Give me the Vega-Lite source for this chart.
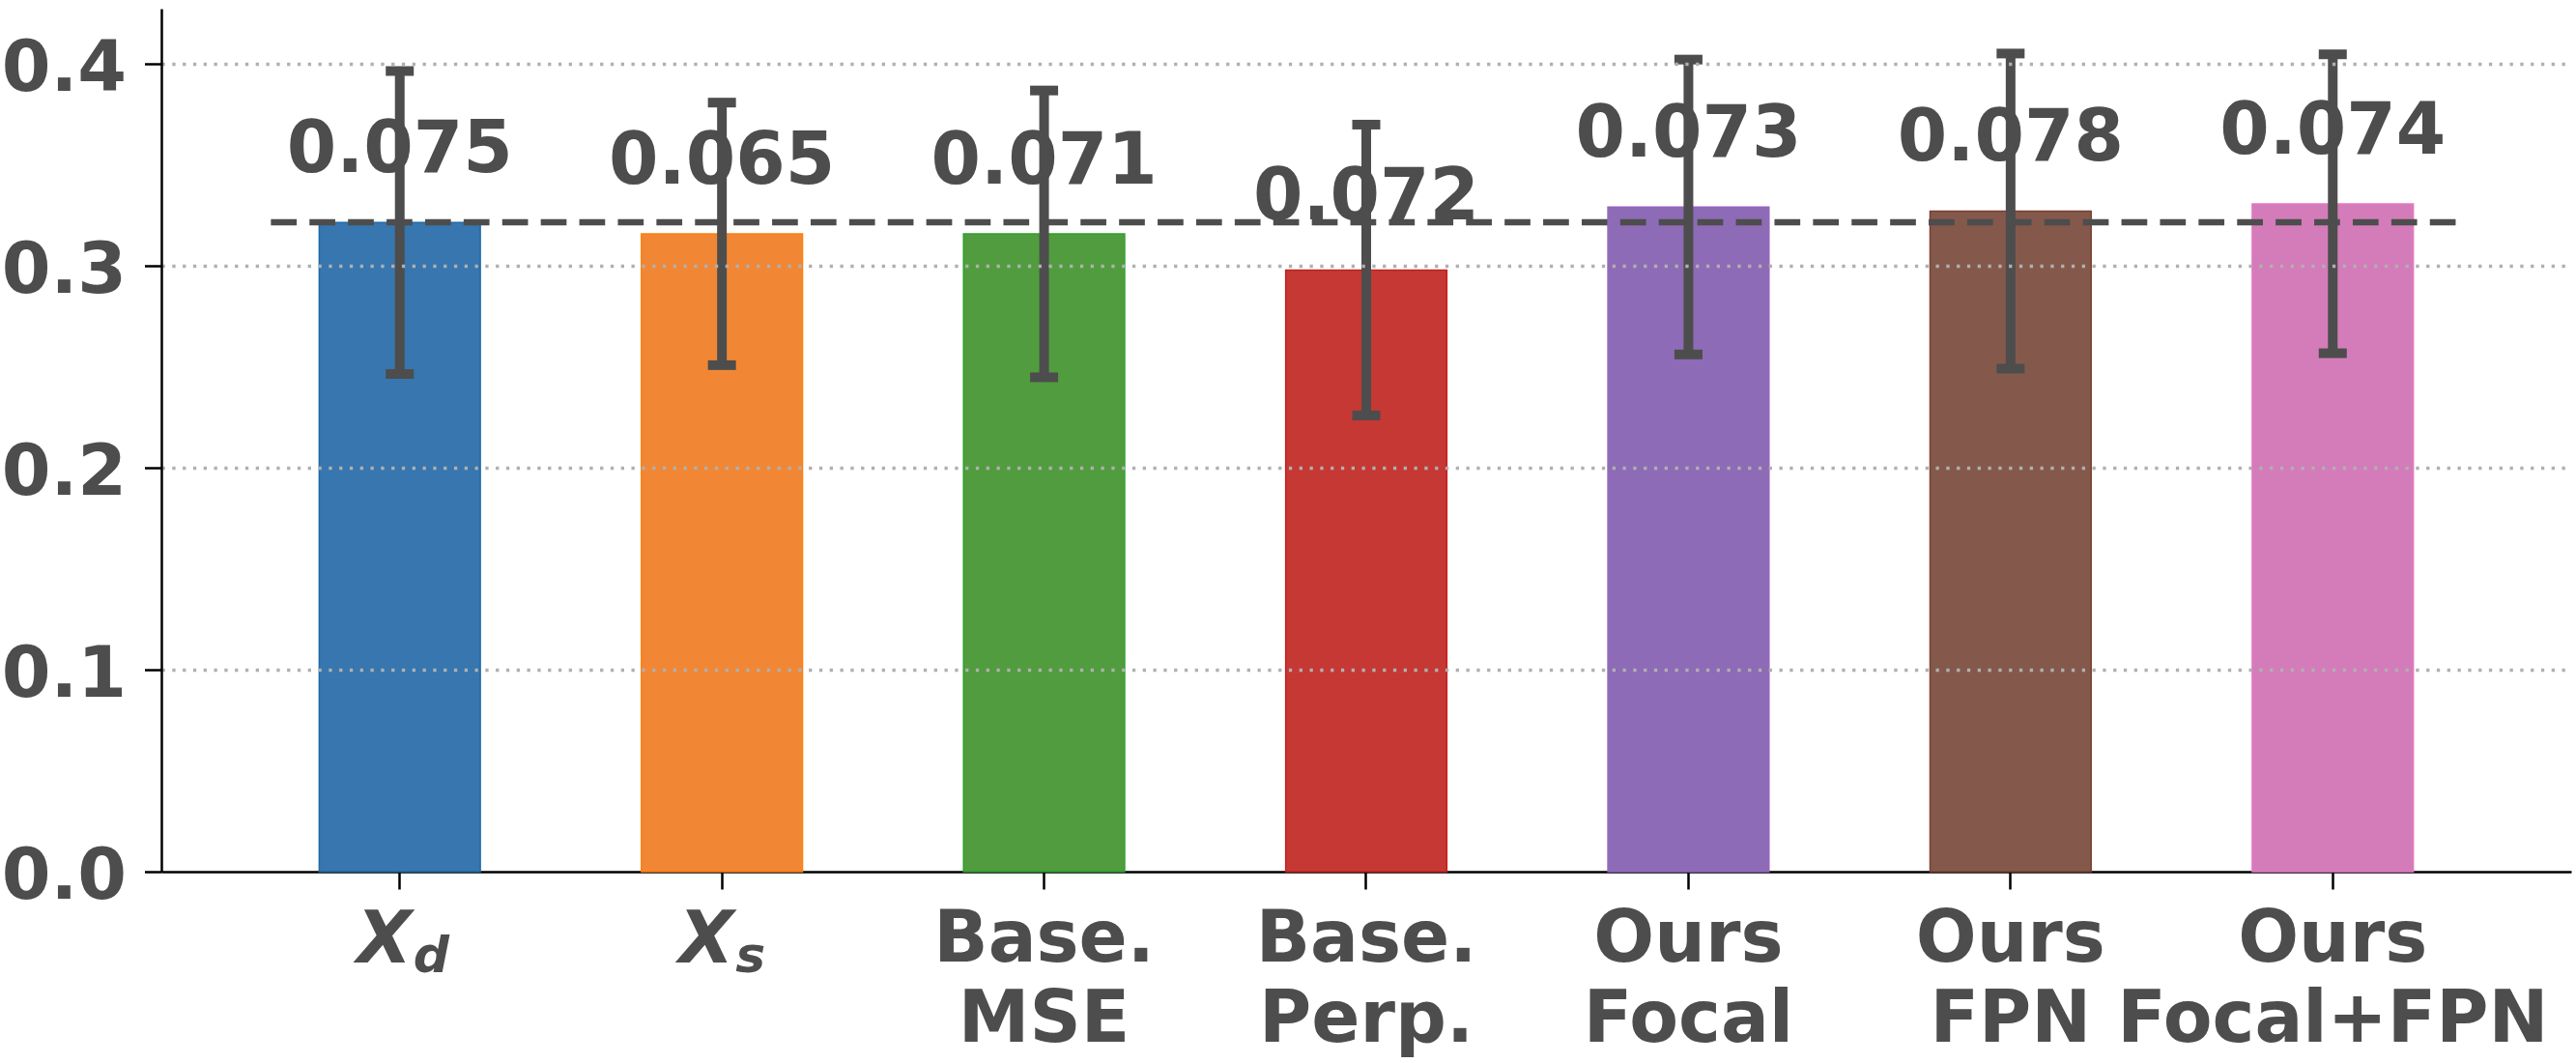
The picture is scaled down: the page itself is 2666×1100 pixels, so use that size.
{
  "$schema": "https://vega.github.io/schema/vega-lite/v6.json",
  "width": 2494,
  "height": 893,
  "autosize": {"type": "none"},
  "padding": {"left": 167, "top": 9, "right": 5, "bottom": 198},
  "data": {
    "values": [
      {"method": "X_d", "mean": 0.3214, "std": 0.075, "sub": "d"},
      {"method": "X_s", "mean": 0.3158, "std": 0.065, "sub": "s"},
      {"method": "Base.|MSE", "mean": 0.3158, "std": 0.071},
      {"method": "Base.|Perp.", "mean": 0.2979, "std": 0.072},
      {"method": "Ours|Focal", "mean": 0.3291, "std": 0.073},
      {"method": "Ours|FPN", "mean": 0.3271, "std": 0.078},
      {"method": "Ours|Focal+FPN", "mean": 0.3307, "std": 0.074}
    ]
  },
  "encoding": {
    "x": {
      "field": "method",
      "type": "nominal",
      "sort": null,
      "scale": {"paddingInner": 0.5, "paddingOuter": 0.49},
      "axis": {
        "title": null,
        "labelExpr": "indexof(datum.label, 'X_') == 0 ? '' : split(datum.label, '|')",
        "labelAngle": 0,
        "labelFont": "DejaVu Sans",
        "labelFontSize": 74,
        "labelFontWeight": "bold",
        "labelColor": "#4d4d4d",
        "labelLineHeight": 83,
        "labelPadding": 16,
        "labelLimit": 2000,
        "tickSize": 18,
        "tickWidth": 2.5,
        "tickColor": "#000000",
        "domainColor": "#000000",
        "domainWidth": 2.5,
        "grid": false
      }
    },
    "y": {
      "field": "mean",
      "type": "quantitative",
      "scale": {"domain": [0, 0.4273], "nice": false},
      "axis": {
        "title": null,
        "values": [0, 0.1, 0.2, 0.3, 0.4],
        "format": ".1f",
        "labelFont": "DejaVu Sans",
        "labelFontSize": 73,
        "labelFontWeight": "bold",
        "labelColor": "#4d4d4d",
        "labelBaseline": "alphabetic",
        "labelOffset": 27,
        "labelPadding": 19,
        "tickSize": 17.5,
        "tickWidth": 2.5,
        "tickColor": "#000000",
        "domainColor": "#000000",
        "domainWidth": 2.5,
        "grid": true,
        "gridColor": "#b0b0b0",
        "gridWidth": 3.3,
        "gridDash": [3.3, 7.5],
        "gridOpacity": {"condition": {"test": "datum.value === 0", "value": 0}, "value": 1},
        "zindex": 1
      }
    }
  },
  "layer": [
    {
      "mark": {"type": "bar", "strokeWidth": 1.5},
      "encoding": {
        "color": {
          "field": "method",
          "type": "nominal",
          "scale": {
            "domain": ["X_d", "X_s", "Base.|MSE", "Base.|Perp.", "Ours|Focal", "Ours|FPN", "Ours|Focal+FPN"],
            "range": ["#3776ae", "#f18734", "#519c3e", "#c63833", "#8d6bb6", "#84594c", "#d47cba"]
          },
          "legend": null
        },
        "stroke": {
          "field": "method",
          "type": "nominal",
          "scale": {
            "domain": ["X_d", "X_s", "Base.|MSE", "Base.|Perp.", "Ours|Focal", "Ours|FPN", "Ours|Focal+FPN"],
            "range": ["#1f6aa8", "#ff7f0e", "#2ca02c", "#c42020", "#9467bd", "#7a4030", "#e377c2"]
          },
          "legend": null
        }
      }
    },
    {
      "data": {"values": [{"ref": 0.3215}]},
      "mark": {"type": "rule", "color": "#4d4d4d", "strokeWidth": 6.5, "strokeDash": [26.7, 13.2]},
      "encoding": {
        "x": {"datum": "X_d", "type": "nominal", "bandPosition": -0.3},
        "x2": {"datum": "Ours|Focal+FPN", "bandPosition": 1.3},
        "y": {"field": "ref", "type": "quantitative"}
      }
    },
    {
      "mark": {
        "type": "text",
        "font": "DejaVu Sans",
        "fontSize": 74,
        "fontWeight": "bold",
        "color": "#4d4d4d",
        "baseline": "alphabetic",
        "dy": -52
      },
      "encoding": {
        "text": {"field": "std", "type": "quantitative", "format": ".3f"}
      }
    },
    {
      "mark": {
        "type": "errorbar",
        "color": "#4d4d4d",
        "thickness": 10,
        "size": 29,
        "ticks": {"opacity": 1, "thickness": 10, "color": "#4d4d4d"},
        "rule": {"opacity": 1, "color": "#4d4d4d"}
      },
      "encoding": {
        "x": {"field": "method", "type": "nominal", "sort": null},
        "y": {"field": "mean", "type": "quantitative"},
        "yError": {"field": "std"}
      }
    },
    {
      "transform": [{"filter": "isValid(datum.sub)"}],
      "mark": {
        "type": "text",
        "text": "X",
        "font": "DejaVu Sans",
        "fontSize": 74,
        "fontWeight": "bold",
        "fontStyle": "italic",
        "color": "#4d4d4d",
        "baseline": "alphabetic",
        "align": "center",
        "dx": -16,
        "dy": 94
      },
      "encoding": {
        "y": {"datum": 0, "type": "quantitative"}
      }
    },
    {
      "transform": [{"filter": "isValid(datum.sub)"}],
      "mark": {
        "type": "text",
        "font": "DejaVu Sans",
        "fontSize": 52,
        "fontWeight": "bold",
        "fontStyle": "italic",
        "color": "#4d4d4d",
        "baseline": "alphabetic",
        "align": "left",
        "dx": 14,
        "dy": 104
      },
      "encoding": {
        "y": {"datum": 0, "type": "quantitative"},
        "text": {"field": "sub", "type": "nominal"}
      }
    }
  ],
  "config": {
    "view": {"stroke": null},
    "font": "DejaVu Sans"
  }
}
